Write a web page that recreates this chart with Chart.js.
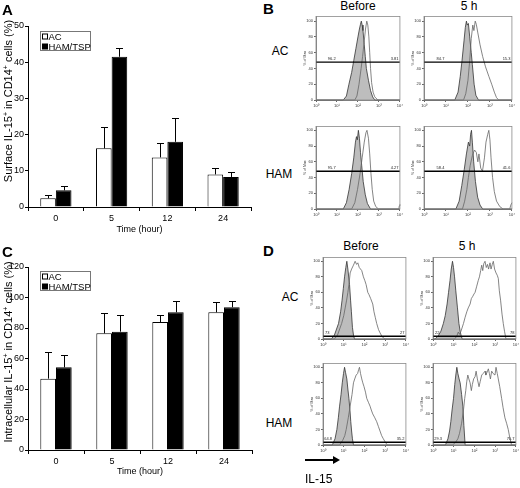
<!DOCTYPE html>
<html><head><meta charset="utf-8">
<script src="https://cdn.jsdelivr.net/npm/chart.js@4.4.0/dist/chart.umd.min.js"></script>
<style>
html,body{margin:0;padding:0;background:#fff;}
#fig{position:relative;width:520px;height:488px;overflow:hidden;font-family:"Liberation Sans",Arial,sans-serif;color:#000;}
canvas{position:absolute;}
.t{position:absolute;transform:translate(-50%,-50%);white-space:nowrap;line-height:1;font-size:12px;}
.yt{position:absolute;transform:translate(-50%,-50%) rotate(-90deg);white-space:nowrap;line-height:1;font-size:11px;}
.yt span{font-size:7px;vertical-align:4px;line-height:0;}
.p{position:absolute;font-weight:bold;font-size:15px;line-height:1;}
</style></head><body><div id="fig">
<canvas id="chartA" width="260" height="240" style="left:0;top:0"></canvas>
<canvas id="chartC" width="260" height="248" style="left:0;top:240px"></canvas>
<canvas id="hB1"></canvas><canvas id="hB2"></canvas><canvas id="hB3"></canvas><canvas id="hB4"></canvas>
<canvas id="hD1"></canvas><canvas id="hD2"></canvas><canvas id="hD3"></canvas><canvas id="hD4"></canvas>
<div class="yt" style="left:8px;top:101px">Surface IL-15<span>+</span> in CD14<span>+</span> cells (%)</div>
<div class="yt" style="left:8px;top:352px">Intracellular IL-15<span>+</span> in CD14<span>+</span> cells (%)</div>
<div class="p" style="left:2px;top:2px">A</div>
<div class="p" style="left:2px;top:244px">C</div>
<div class="p" style="left:263px;top:1px">B</div>
<div class="p" style="left:263px;top:243px">D</div>
<div class="t" style="left:358px;top:6px">Before</div>
<div class="t" style="left:469px;top:6px">5 h</div>
<div class="t" style="left:280px;top:51px">AC</div>
<div class="t" style="left:279px;top:174px">HAM</div>
<div class="t" style="left:361px;top:246px">Before</div>
<div class="t" style="left:467px;top:246px">5 h</div>
<div class="t" style="left:290px;top:297px">AC</div>
<div class="t" style="left:279px;top:423px">HAM</div>
<svg style="position:absolute;left:300px;top:452px" width="45" height="16"><line x1="5" y1="8" x2="36" y2="8" stroke="#000" stroke-width="2"/><polygon points="33,4 40,8 33,12" fill="#000"/></svg>
<div style="position:absolute;left:305px;top:473px;font-size:12px;line-height:1">IL-15</div>
</div>
<script>
// ---------- data ----------
const timeCategories = ['0', '5', '12', '24'];
const seriesNames = ['AC', 'HAM/TSP'];
const acSurface = [2.4, 16.2, 13.7, 9.0];
const acSurfaceSD = [0.9, 5.9, 3.9, 1.7];
const hamSurface = [4.6, 41.5, 18.0, 8.3];
const hamSurfaceSD = [1.3, 2.3, 6.5, 1.4];
const acIntra = [46.8, 76.5, 83.9, 90.3];
const acIntraSD = [17.2, 13.3, 4.8, 6.5];
const hamIntra = [54.2, 77.6, 90.3, 93.6];
const hamIntraSD = [8.3, 10.7, 7.2, 3.9];
const surfaceTicks = [0, 10, 20, 30, 40, 50];
const intraTicks = [0, 20, 40, 60, 80, 100, 120];
const histYTicks = [0, 20, 40, 60, 80, 100];
const histXTicks = [0, 1, 2, 3, 4];            // log10 decades
const histXTickLabels = ['10⁰', '10¹', '10²', '10³', '10⁴'];

// histograms: [log10 intensity, % of max]
const bAcBeforeIso = [[0,0],[1.3,0],[1.45,5],[1.57,20],[1.7,35],[1.8,50],[1.9,65],[2.0,80],[2.07,90],[2.12,96],[2.16,100],[2.2,95],[2.24,88],[2.3,70],[2.35,55],[2.4,40],[2.5,25],[2.6,12],[2.7,4],[2.8,0],[4,0]];
const bAcBeforeStain = [[0,0],[1.85,0],[1.95,5],[2.05,20],[2.15,40],[2.22,55],[2.3,75],[2.36,90],[2.42,100],[2.47,95],[2.52,80],[2.56,60],[2.6,40],[2.65,22],[2.72,10],[2.8,4],[2.95,0],[4,0]];
const bAc5hIso = [[0,0],[1.4,0],[1.55,10],[1.65,30],[1.73,50],[1.82,75],[1.88,92],[1.93,100],[1.97,95],[2.02,97],[2.08,80],[2.15,60],[2.2,45],[2.28,20],[2.36,6],[2.48,0],[4,0]];
const bAc5hStain = [[0,0],[1.8,0],[1.9,8],[2.0,25],[2.08,50],[2.15,78],[2.22,95],[2.27,88],[2.33,100],[2.38,96],[2.45,85],[2.55,70],[2.67,55],[2.8,42],[2.95,30],[3.08,20],[3.2,10],[3.3,3],[3.4,0],[4,0]];
const bHamBeforeIso = [[0,0],[1.3,0],[1.45,8],[1.58,25],[1.7,45],[1.8,65],[1.88,85],[1.93,92],[1.97,88],[2.02,100],[2.07,90],[2.12,72],[2.18,55],[2.25,35],[2.35,18],[2.45,7],[2.6,0],[4,0]];
const bHamBeforeStain = [[0,0],[1.7,0],[1.85,8],[1.98,25],[2.1,45],[2.2,65],[2.3,85],[2.38,97],[2.43,100],[2.5,90],[2.56,70],[2.62,45],[2.68,25],[2.75,10],[2.85,3],[2.98,0],[3.95,0],[3.97,4],[4,6]];
const bHam5hIso = [[0,0],[1.45,0],[1.6,10],[1.72,30],[1.83,50],[1.93,70],[2.02,85],[2.08,80],[2.12,95],[2.16,100],[2.2,85],[2.26,60],[2.34,35],[2.44,15],[2.55,5],[2.67,0],[4,0]];
const bHam5hStain = [[0,0],[1.75,0],[1.85,10],[1.95,25],[2.02,40],[2.1,55],[2.2,68],[2.3,75],[2.38,72],[2.45,60],[2.5,70],[2.58,52],[2.66,48],[2.75,65],[2.82,85],[2.9,95],[2.95,100],[3.0,88],[3.05,65],[3.12,40],[3.2,22],[3.3,10],[3.45,3],[3.6,0],[3.9,0],[3.95,5],[4,8]];
const dAcBeforeIso = [[0,0],[0.4,0],[0.55,5],[0.75,20],[0.85,35],[0.92,50],[0.98,65],[1.04,80],[1.1,92],[1.15,100],[1.2,90],[1.28,70],[1.33,50],[1.37,35],[1.42,15],[1.47,5],[1.52,0],[4,0]];
const dAcBeforeStain = [[0,0],[0.55,0],[0.7,5],[0.9,20],[1.0,30],[1.07,40],[1.14,50],[1.2,60],[1.26,72],[1.31,85],[1.38,90],[1.47,95],[1.55,100],[1.62,96],[1.68,98],[1.75,92],[1.87,88],[1.95,80],[2.02,75],[2.08,70],[2.16,60],[2.22,57],[2.3,52],[2.4,45],[2.46,35],[2.52,28],[2.59,20],[2.68,12],[2.75,8],[2.85,3],[2.99,0],[4,0]];
const dAc5hIso = [[0,0],[0.1,0],[0.25,4],[0.38,10],[0.5,20],[0.59,30],[0.68,45],[0.75,60],[0.82,75],[0.88,90],[0.94,100],[0.99,92],[1.04,80],[1.1,62],[1.18,40],[1.25,20],[1.31,10],[1.36,4],[1.41,0],[4,0]];
const dAc5hStain = [[0,0],[1.05,0],[1.15,4],[1.22,9],[1.28,6],[1.35,10],[1.47,20],[1.55,28],[1.63,35],[1.7,40],[1.79,45],[1.85,52],[1.92,55],[1.98,58],[2.03,60],[2.11,68],[2.18,75],[2.24,80],[2.3,88],[2.35,95],[2.4,88],[2.45,97],[2.51,100],[2.57,92],[2.63,96],[2.68,90],[2.75,98],[2.8,90],[2.86,96],[2.91,100],[2.97,90],[3.04,85],[3.1,82],[3.15,78],[3.2,62],[3.26,50],[3.33,32],[3.39,20],[3.45,10],[3.52,0],[4,0]];
const dHamBeforeIso = [[0,0],[0.45,0],[0.58,8],[0.67,20],[0.74,35],[0.8,50],[0.87,65],[0.93,80],[0.99,92],[1.04,100],[1.09,93],[1.15,85],[1.2,72],[1.25,60],[1.3,45],[1.34,30],[1.38,18],[1.42,8],[1.47,0],[4,0]];
const dHamBeforeStain = [[0,0],[0.8,0],[0.95,6],[1.05,12],[1.12,20],[1.22,35],[1.31,50],[1.4,65],[1.47,80],[1.53,85],[1.6,90],[1.67,92],[1.72,97],[1.76,100],[1.81,92],[1.87,85],[1.92,80],[1.98,75],[2.05,68],[2.11,60],[2.19,55],[2.27,50],[2.33,45],[2.4,40],[2.5,35],[2.59,30],[2.67,24],[2.75,18],[2.83,12],[2.91,8],[3.0,4],[3.1,0],[4,0]];
const dHam5hIso = [[0,0],[0.6,0],[0.72,8],[0.8,18],[0.86,30],[0.92,45],[0.99,60],[1.05,78],[1.1,90],[1.15,100],[1.2,92],[1.26,85],[1.31,80],[1.38,65],[1.44,50],[1.49,25],[1.55,0],[4,0]];
const dHam5hStain = [[0,0],[0.95,0],[1.1,4],[1.2,8],[1.28,15],[1.38,28],[1.47,45],[1.53,60],[1.58,70],[1.63,82],[1.68,90],[1.73,85],[1.79,80],[1.85,70],[1.9,78],[1.96,85],[2.03,88],[2.08,95],[2.14,85],[2.22,75],[2.28,82],[2.35,90],[2.42,92],[2.51,95],[2.55,90],[2.6,93],[2.67,98],[2.72,92],[2.77,85],[2.83,95],[2.9,92],[2.99,90],[3.04,100],[3.1,92],[3.15,85],[3.22,75],[3.31,60],[3.38,48],[3.47,35],[3.55,28],[3.63,20],[3.7,10],[3.79,0],[4,0]];
const gateSurface = 48;
const gateIntra = 3.5;
const gateLabelsB = [['96.2','3.81'],['84.7','15.3'],['95.7','4.27'],['58.4','41.6']];
const gateLabelsD = [['73','27'],['22','78'],['64.8','35.2'],['29.3','70.7']];

// ---------- setup ----------
const FONT = '"Liberation Sans", Arial, sans-serif';
Chart.defaults.font.family = FONT;
Chart.defaults.color = '#000';
Chart.defaults.animation = false;

const errorBarPlugin = {
  id: 'errorBars',
  afterDatasetsDraw(chart) {
    const {ctx} = chart; const ys = chart.scales.y;
    ctx.save(); ctx.strokeStyle = '#000'; ctx.lineWidth = 1;
    chart.data.datasets.forEach((ds, di) => {
      chart.getDatasetMeta(di).data.forEach((bar, i) => {
        const top = Math.round(ys.getPixelForValue(ds.data[i] + ds.errors[i])) + 0.5;
        const x = Math.round(bar.x) + 0.5;
        ctx.beginPath();
        ctx.moveTo(x, bar.y); ctx.lineTo(x, top);
        ctx.moveTo(x - 3.5, top); ctx.lineTo(x + 3.5, top);
        ctx.stroke();
      });
    });
    ctx.restore();
  }
};
const legendBoxPlugin = {
  id: 'legendBox',
  afterDraw(chart, args, o) {
    const {ctx} = chart;
    ctx.save();
    ctx.strokeStyle = '#777'; ctx.lineWidth = 1;
    ctx.strokeRect(o.x + 0.5, o.y + 0.5, o.w, o.h);
    ctx.font = '9.5px ' + FONT; ctx.textBaseline = 'middle';
    chart.data.datasets.forEach((ds, i) => {
      const cy = o.y + 5.5 + i * 10;
      ctx.fillStyle = ds.backgroundColor; ctx.fillRect(o.x + 2.5, cy - 2.5, 5, 5);
      ctx.strokeStyle = '#000'; ctx.strokeRect(o.x + 2.5, cy - 2.5, 5, 5);
      ctx.fillStyle = '#000'; ctx.fillText(ds.label, o.x + 8.5, cy + 0.5);
    });
    ctx.restore();
  }
};
const framePlugin = {
  id: 'frame',
  afterDraw(chart) {
    const {ctx, chartArea: a} = chart;
    ctx.save(); ctx.strokeStyle = '#8a8a8a'; ctx.lineWidth = 0.8;
    ctx.strokeRect(a.left, a.top, a.right - a.left, a.bottom - a.top);
    ctx.restore();
  }
};
const gateTextPlugin = {
  id: 'gateText',
  afterDatasetsDraw(chart, args, o) {
    const {ctx, chartArea: a} = chart; const xs = chart.scales.x, ys = chart.scales.y;
    const py = ys.getPixelForValue(o.gate) - 1.2;
    ctx.save(); ctx.font = '4px ' + FONT; ctx.fillStyle = '#222'; ctx.textBaseline = 'bottom';
    ctx.textAlign = 'center'; ctx.fillText(o.labels[0], xs.getPixelForValue(o.lx), py);
    ctx.textAlign = 'right'; ctx.fillText(o.labels[1], a.right - 1.5, py);
    ctx.restore();
  }
};

function makeBar(id, ac, acSD, ham, hamSD, yTicks, L) {
  return new Chart(document.getElementById(id), {
    type: 'bar',
    data: {
      labels: timeCategories,
      datasets: [
        {label: seriesNames[0], data: ac, errors: acSD, backgroundColor: '#fff', borderColor: '#000', borderWidth: 1, categoryPercentage: 0.56, barPercentage: 1},
        {label: seriesNames[1], data: ham, errors: hamSD, backgroundColor: '#000', borderColor: '#000', borderWidth: 1, categoryPercentage: 0.56, barPercentage: 1}
      ]
    },
    options: {
      responsive: false, animation: false,
      layout: {padding: {top: L.padTop, right: L.padRight, left: 0, bottom: 0}},
      scales: {
        x: {
          grid: {display: true, drawOnChartArea: false, drawTicks: true, tickLength: 4, color: '#000', offset: true},
          border: {display: true, color: '#000', width: 1},
          ticks: {font: {size: 9}, padding: L.tickPad, color: '#000'},
          title: {display: true, text: 'Time (hour)', font: {size: 9}, padding: {top: 0, bottom: L.xTitlePad}},
          afterFit: s => { s.height = L.xH; }
        },
        y: {
          min: 0, max: yTicks[yTicks.length - 1],
          afterBuildTicks: s => { s.ticks = yTicks.map(v => ({value: v})); },
          grid: {display: true, drawOnChartArea: false, tickLength: 3, color: '#000'},
          border: {display: true, color: '#000', width: 1},
          ticks: {font: {size: 9}, padding: 1, color: '#000'},
          afterFit: s => { s.width = L.yW; }
        }
      },
      plugins: {legend: {display: false}, tooltip: {enabled: false}, legendBox: {x: 40, y: L.legY, w: 50, h: 19}}
    },
    plugins: [errorBarPlugin, legendBoxPlugin]
  });
}

makeBar('chartA', acSurface, acSurfaceSD, hamSurface, hamSurfaceSD, surfaceTicks,
  {yW: 28, padTop: 26, padRight: 9, xH: 33, tickPad: 2, xTitlePad: 5, legY: 31});
makeBar('chartC', acIntra, acIntraSD, hamIntra, hamIntraSD, intraTicks,
  {yW: 28, padTop: 27, padRight: 8, xH: 38, tickPad: 2, xTitlePad: 11, legY: 31});

const pts = arr => arr.map(([x, y]) => ({x, y}));

function makeHist(id, box, iso, stain, gate, labels, lx) {
  const padTop = 3, padRight = 4, yW = 14, xH = 10;
  const cv = document.getElementById(id);
  cv.width = (box.r - box.l) + yW + padRight;
  cv.height = (box.b - box.t) + padTop + xH;
  cv.style.left = (box.l - yW) + 'px';
  cv.style.top = (box.t - padTop) + 'px';
  return new Chart(cv, {
    type: 'line',
    data: {datasets: [
      {data: [{x: histXTicks[0], y: gate}, {x: histXTicks[histXTicks.length - 1], y: gate}], borderColor: '#000', borderWidth: 1.4, pointRadius: 0, fill: false, order: 0, clip: 3},
      {data: pts(stain), borderColor: '#666', borderWidth: 0.8, pointRadius: 0, tension: 0, fill: false, order: 1, clip: 3},
      {data: pts(iso), borderColor: '#333', backgroundColor: '#bdbdbd', borderWidth: 0.8, pointRadius: 0, tension: 0, fill: 'origin', order: 2, clip: 3}
    ]},
    options: {
      responsive: false, animation: false,
      layout: {padding: {top: padTop, right: padRight, left: 0, bottom: 0}},
      scales: {
        x: {
          type: 'linear', min: 0, max: 4,
          afterBuildTicks: s => { s.ticks = histXTicks.map(v => ({value: v})); },
          ticks: {font: {size: 4}, padding: 1, maxRotation: 0, autoSkip: false, color: '#333',
                  callback: v => histXTickLabels[histXTicks.indexOf(v)]},
          grid: {display: true, drawOnChartArea: false, tickLength: 2, color: '#666'},
          border: {display: true, color: '#666', width: 0.8},
          afterFit: s => { s.height = xH; }
        },
        y: {
          min: 0, max: box.ymax,
          afterBuildTicks: s => { s.ticks = histYTicks.map(v => ({value: v})); },
          ticks: {font: {size: 4}, padding: 1, color: '#333'},
          grid: {display: true, drawOnChartArea: false, tickLength: 2, color: '#666'},
          border: {display: true, color: '#666', width: 0.8},
          title: {display: true, text: '% of Max', font: {size: 3.5}, color: '#333', padding: {top: 0.5, bottom: 0}},
          afterFit: s => { s.width = yW; }
        }
      },
      plugins: {legend: {display: false}, tooltip: {enabled: false}, gateText: {gate, labels, lx}}
    },
    plugins: [framePlugin, gateTextPlugin]
  });
}

const boxesB = [
  {l: 316, t: 16, r: 400, b: 100, ymax: 106},
  {l: 424, t: 16, r: 512, b: 100, ymax: 106},
  {l: 316, t: 126, r: 400, b: 209, ymax: 105},
  {l: 424, t: 126, r: 512, b: 209, ymax: 105}
];
const boxesD = [
  {l: 323, t: 257, r: 406, b: 339, ymax: 105},
  {l: 433, t: 257, r: 516, b: 339, ymax: 105},
  {l: 323, t: 363, r: 406, b: 445, ymax: 105},
  {l: 433, t: 363, r: 516, b: 445, ymax: 105}
];
makeHist('hB1', boxesB[0], bAcBeforeIso, bAcBeforeStain, gateSurface, gateLabelsB[0], 0.75);
makeHist('hB2', boxesB[1], bAc5hIso, bAc5hStain, gateSurface, gateLabelsB[1], 0.75);
makeHist('hB3', boxesB[2], bHamBeforeIso, bHamBeforeStain, gateSurface, gateLabelsB[2], 0.75);
makeHist('hB4', boxesB[3], bHam5hIso, bHam5hStain, gateSurface, gateLabelsB[3], 0.75);
makeHist('hD1', boxesD[0], dAcBeforeIso, dAcBeforeStain, gateIntra, gateLabelsD[0], 0.2);
makeHist('hD2', boxesD[1], dAc5hIso, dAc5hStain, gateIntra, gateLabelsD[1], 0.2);
makeHist('hD3', boxesD[2], dHamBeforeIso, dHamBeforeStain, gateIntra, gateLabelsD[2], 0.25);
makeHist('hD4', boxesD[3], dHam5hIso, dHam5hStain, gateIntra, gateLabelsD[3], 0.25);
</script>
</body></html>
